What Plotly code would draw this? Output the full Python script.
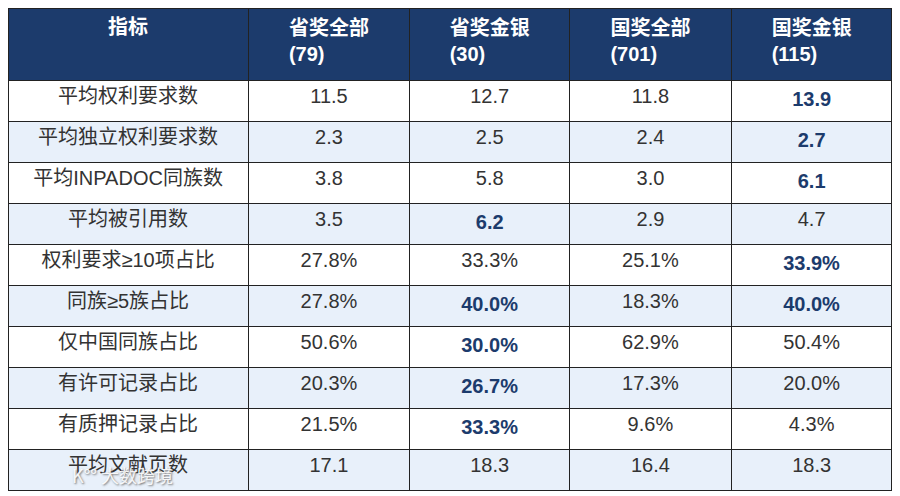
import plotly.graph_objects as go

# 表头与数据
headers = ["指标", "省奖全部<br>(79)", "省奖金银<br>(30)", "国奖全部<br>(701)", "国奖金银<br>(115)"]
metrics = ["平均权利要求数", "平均独立权利要求数", "平均INPADOC同族数", "平均被引用数",
           "权利要求≥10项占比", "同族≥5族占比", "仅中国同族占比", "有许可记录占比",
           "有质押记录占比", "平均文献页数"]
prov_all = ["11.5", "2.3", "3.8", "3.5", "27.8%", "27.8%", "50.6%", "20.3%", "21.5%", "17.1"]
prov_gold = ["12.7", "2.5", "5.8", "6.2", "33.3%", "40.0%", "30.0%", "26.7%", "33.3%", "18.3"]
nat_all = ["11.8", "2.4", "3.0", "2.9", "25.1%", "18.3%", "62.9%", "17.3%", "9.6%", "16.4"]
nat_gold = ["13.9", "2.7", "6.1", "4.7", "33.9%", "40.0%", "50.4%", "20.0%", "4.3%", "18.3"]

# 加粗高亮的单元格 (列号, 行号)，列 0 为指标名
highlight = [(4, 0), (4, 1), (4, 2), (2, 3), (4, 4), (2, 5), (4, 5), (2, 6), (2, 7), (2, 8)]

NAVY = "#1c3b6c"
LIGHT = "#e8f0fa"
TEXT = "#333333"
FONT = "Liberation Sans, Noto Sans CJK SC"

columns = [metrics, prov_all, prov_gold, nat_all, nat_gold]
cell_text = [list(col) for col in columns]
cell_colors = [[TEXT] * len(metrics) for _ in columns]
for c, r in highlight:
    cell_text[c][r] = "<b>" + cell_text[c][r] + "</b>"
    cell_colors[c][r] = NAVY

row_fill = ["white" if i % 2 == 0 else LIGHT for i in range(len(metrics))]

fig = go.Figure(go.Table(
    # table 内部有约 8px 偏移，宽度按此缩放
    domain=dict(x=[0, 884 / 900], y=[0, 1]),
    columnwidth=[242, 163, 161, 163, 162],
    header=dict(
        values=["<b>" + h + "</b>" for h in headers],
        fill_color=NAVY,
        line=dict(color="#222222", width=1),
        align="center",
        height=72,
        font=dict(family=FONT, size=20, color="white"),
    ),
    cells=dict(
        values=cell_text,
        fill_color=[row_fill] * 5,
        line=dict(color="#222222", width=1),
        align="center",
        height=41,
        font=dict(family=FONT, size=20, color=cell_colors),
    ),
))

# 左下角水印
fig.add_annotation(
    text="K°° 大数跨境", x=62 / 900, y=1 - 482 / 496, xref="paper", yref="paper", showarrow=False,
    font=dict(size=18, color="rgba(255,255,255,0.9)", family="Noto Sans CJK SC",
              shadow="1px 1px 2px #666"),
)
fig.update_layout(
    width=900, height=496,
    margin=dict(l=0, r=0, t=0, b=0),
    paper_bgcolor="white",
)

fig.write_html("out.html")
